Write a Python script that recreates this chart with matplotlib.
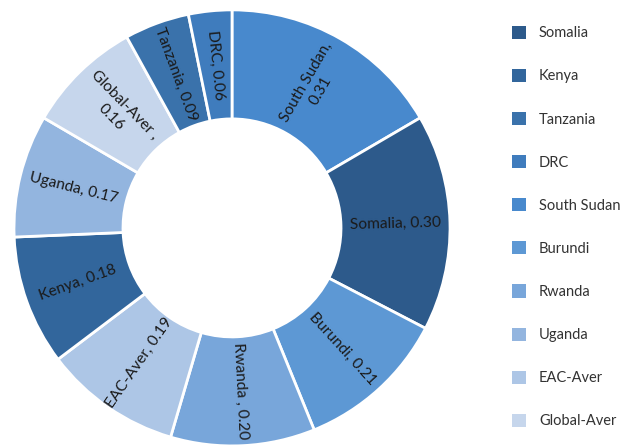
import matplotlib.pyplot as plt
import numpy as np

plt.rcParams['font.family'] = ['Lato', 'DejaVu Sans']

# slices, clockwise from 12 o'clock
labels = ['South Sudan', 'Somalia', 'Burundi', 'Rwanda', 'EAC-Aver',
          'Kenya', 'Uganda', 'Global-Aver', 'Tanzania', 'DRC']
values = [0.31, 0.30, 0.21, 0.20, 0.19, 0.18, 0.17, 0.16, 0.09, 0.06]
slice_text = ['South Sudan,\n0.31', 'Somalia, 0.30', 'Burundi, 0.21', 'Rwanda , 0.20',
              'EAC-Aver, 0.19', 'Kenya, 0.18', 'Uganda, 0.17', 'Global-Aver ,\n0.16',
              'Tanzania, 0.09', 'DRC, 0.06']
colors = {
    'Somalia': '#2d5a8b',
    'Kenya': '#32669c',
    'Tanzania': '#3a72ab',
    'DRC': '#3f7cbd',
    'South Sudan': '#4889cd',
    'Burundi': '#5d98d4',
    'Rwanda': '#78a6da',
    'Uganda': '#93b5df',
    'EAC-Aver': '#adc6e6',
    'Global-Aver': '#c6d6ec',
}
legend_order = ['Somalia', 'Kenya', 'Tanzania', 'DRC', 'South Sudan',
                'Burundi', 'Rwanda', 'Uganda', 'EAC-Aver', 'Global-Aver']

fig = plt.figure(figsize=(6.22, 4.46), dpi=100)
ax = fig.add_axes([0.0225, 0.0, 0.701, 0.978])

wedges, _ = ax.pie(values, colors=[colors[l] for l in labels], startangle=90,
                   counterclock=False, radius=1.0,
                   wedgeprops=dict(width=0.5, edgecolor='white', linewidth=2))

# rotated labels in the middle of the ring
for w, txt in zip(wedges, slice_text):
    ang = (w.theta1 + w.theta2) / 2
    x = 0.75 * np.cos(np.radians(ang))
    y = 0.75 * np.sin(np.radians(ang))
    rot = (ang + 180) % 360 - 180
    if rot > 90:
        rot -= 180
    elif rot < -90:
        rot += 180
    ax.text(x, y, txt, rotation=rot, rotation_mode='anchor', ha='center', va='center',
            fontsize=11.2, color='#1a1a1a', multialignment='center', linespacing=1.35)

ax.set_xlim(-1, 1)
ax.set_ylim(-1, 1)
ax.set_aspect('equal')
ax.axis('off')

handles = [wedges[labels.index(l)] for l in legend_order]
leg = fig.legend(handles, legend_order, loc='upper left', bbox_to_anchor=(0.823, 0.942),
                 frameon=False, fontsize=10.5, labelspacing=1.96, handlelength=1.0,
                 handleheight=1.0, handletextpad=0.85, borderpad=0, borderaxespad=0)
for h in leg.legend_handles:
    h.set_linewidth(0)
for t in leg.get_texts():
    t.set_color('#333333')

plt.savefig('out.png', dpi=100)
